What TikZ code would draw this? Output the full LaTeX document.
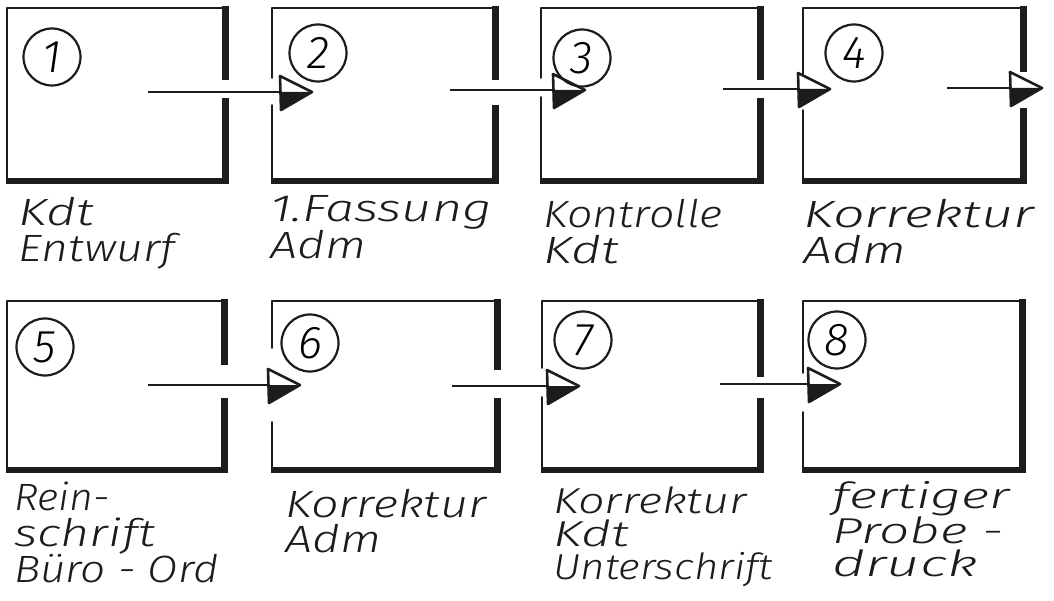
\documentclass[tikz,border=0pt]{standalone}
\usepackage{graphicx}
\usepackage{fontspec}
\newfontfamily\hand{Fira Sans}[UprightFont={* Light Italic}]
\usetikzlibrary{calc}

\definecolor{ink}{HTML}{1C1C1C}

% horizontally widened handwriting line
\newcommand\hw[2]{\scalebox{#1}[1]{#2}}

\tikzset{
  stage/.style={draw=none, minimum width=#1, inner sep=0pt, outer sep=0pt},
  thinedge/.style={ink, line width=1.7pt, line cap=round},
  shadeedge/.style={ink, line width=7pt},
  flooredge/.style={ink, line width=6pt},
  flow/.style={ink, line width=1.4pt},
  numring/.style={circle, draw=ink, line width=2.2pt, minimum size=57pt, inner sep=0pt,
                  font=\hand\fontsize{46}{46}\selectfont},
  caption/.style={anchor=north west, align=left, inner sep=0pt, text=ink,
                  font=\hand\fontsize{38}{36}\selectfont},
  halftip/.pic={
    \fill[ink] (0,0) -- (32,0) -- (1,18) -- cycle;
    \draw[ink, line width=2.6pt, line join=round] (0,-16) -- (32,0) -- (1,18) -- cycle;
  }
}

% frame of a stage box: thin left/top, heavy right/bottom, optional gaps
% #1 node, #2/#3 left gap (offsets from top), #4/#5 right gap (offsets from top)
\newcommand\stageframe[5]{%
  \draw[thinedge] (#1.north west) -- (#1.north east);
  \draw[thinedge] (#1.north west) -- ($(#1.north west)+(0,#2)$);
  \draw[thinedge] ($(#1.north west)+(0,#3)$) -- (#1.south west);
  \draw[shadeedge] ($(#1.north east)+(0,-2)$) -- ($(#1.north east)+(0,#4)$);
  \draw[shadeedge] ($(#1.north east)+(0,#5)$) -- ($(#1.south east)+(0,3)$);
  \draw[flooredge] ($(#1.south west)+(-1,0)$) -- ($(#1.south east)+(3.5,0)$);
}

\begin{document}
\begin{tikzpicture}[x=1pt, y=-1pt]
\useasboundingbox (0,0) rectangle (1054,601);

% ---- stage boxes ----
\node[stage=218pt, minimum height=173pt] (b1) at (116,94.5) {};
\node[stage=223pt, minimum height=173pt] (b2) at (383.5,94.5) {};
\node[stage=219pt, minimum height=173pt] (b3) at (650.5,94.5) {};
\node[stage=220pt, minimum height=173pt] (b4) at (913,94.5) {};
\node[stage=217pt, minimum height=169pt] (b5) at (115.5,385.5) {};
\node[stage=225pt, minimum height=169pt] (b6) at (384.5,385.5) {};
\node[stage=218pt, minimum height=169pt] (b7) at (651,385.5) {};
\node[stage=219pt, minimum height=169pt] (b8) at (912.5,385.5) {};

\stageframe{b1}{90}{90}{72}{90}
\stageframe{b2}{70}{97}{72}{97}
\stageframe{b3}{70}{89}{72}{90}
\stageframe{b4}{67}{102}{64}{100}
\stageframe{b5}{90}{90}{64}{97}
\stageframe{b6}{47}{121}{69}{97}
\stageframe{b7}{67}{96}{76}{97}
\stageframe{b8}{72}{111}{90}{90}

% ---- step numbers ----
\node[numring] (n1) at (52,57) {1};
\node[numring] (n2) at (318,53) {2};
\node[numring] (n3) at (582,58) {3};
\node[numring] (n4) at (854,53) {4};
\node[numring] (n5) at (45,347) {5};
\node[numring] (n6) at (310,343) {6};
\node[numring] (n7) at (583,340) {7};
\node[numring] (n8) at (837,340) {8};

% ---- flow arrows ----
\coordinate (s1) at (148,92);
\coordinate (s2) at (450,90);
\coordinate (s3) at (723,89);
\coordinate (s4) at (947,88);
\coordinate (s5) at (148,385);
\coordinate (s6) at (452,386);
\coordinate (s7) at (720,384);

\draw[flow] (s1) -- ($(b2.west |- s1)+(8,0)$) pic {halftip};
\draw[flow] (s2) -- ($(b3.west |- s2)+(12,0)$) pic {halftip};
\draw[flow] (s3) -- ($(b4.west |- s3)+(-5,0)$) pic {halftip};
\draw[flow] (s4) -- ($(b4.east |- s4)+(-13,0)$) pic {halftip};
\draw[flow] (s5) -- ($(b6.west |- s5)+(-4,0)$) pic {halftip};
\draw[flow] (s6) -- ($(b7.west |- s6)+(5,0)$) pic {halftip};
\draw[flow] (s7) -- ($(b8.west |- s7)+(5,0)$) pic {halftip};

% ---- captions ----
\node[caption] (c1) at (18,197) {\hw{1.37}{Kdt}\\\hw{1.22}{Entwurf}};
\node[caption] (c2) at (270,195) {\hw{1.37}{1.Fassung}\\\hw{1.27}{Adm}};
\node[caption] (c3) at (543,199) {\hw{1.18}{Kontrolle}\\\hw{1.37}{Kdt}};
\node[caption] (c4) at (803,199) {\hw{1.47}{Korrektur}\\\hw{1.36}{Adm}};
\node[caption] (c5) at (14,482) {\hw{1.08}{Rein-}\\\hw{1.32}{schrift}\\\hw{1.16}{Büro - Ord}};
\node[caption, font=\hand\fontsize{38}{35}\selectfont] (c6) at (285,489) {\hw{1.28}{Korrektur}\\\hw{1.27}{Adm}};
\node[caption, font=\hand\fontsize{36}{33}\selectfont] (c7) at (553,487) {\hw{1.3}{Korrektur}\\\hw{1.45}{Kdt}\\\hw{1.17}{Unterschrift}};
\node[caption, font=\hand\fontsize{36}{33}\selectfont] (c8) at (832,481) {\hw{1.52}{fertiger}\\\hw{1.48}{Probe -}\\\hw{1.6}{druck}};
\end{tikzpicture}
\end{document}
